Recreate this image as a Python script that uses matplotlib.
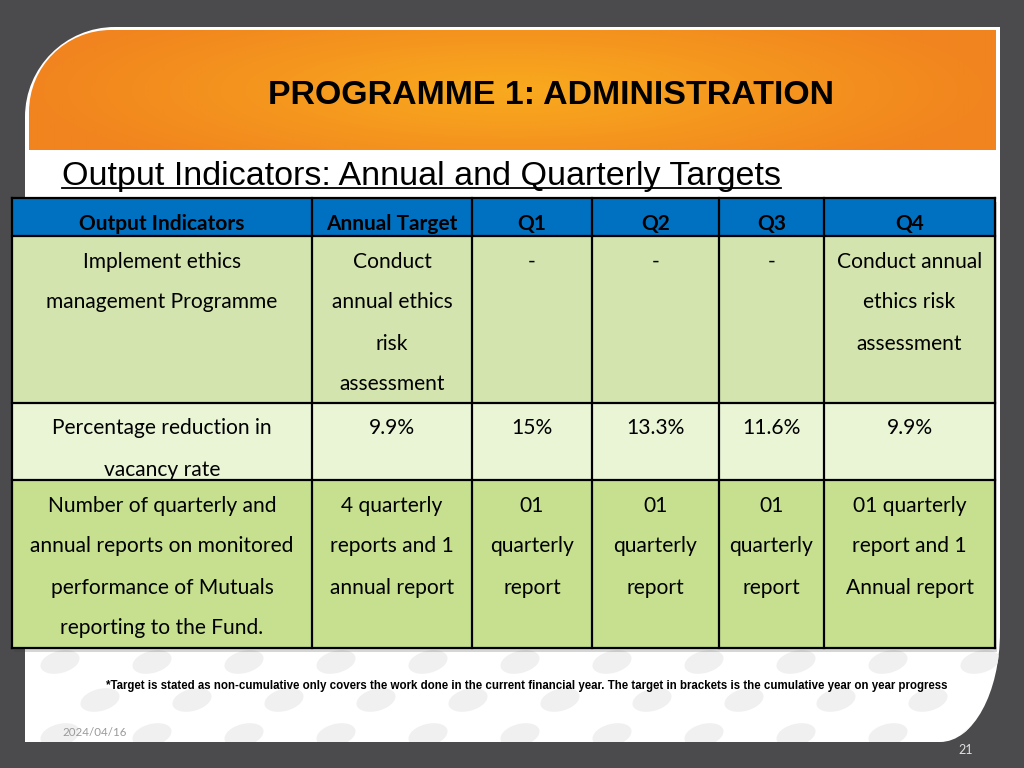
import matplotlib
matplotlib.use("Agg")
import matplotlib.pyplot as plt
import numpy as np
from matplotlib.path import Path
from matplotlib.patches import PathPatch, Rectangle, Ellipse

# ---- slide content ----
title = "PROGRAMME 1: ADMINISTRATION"
subtitle = "Output Indicators: Annual and Quarterly Targets"
headers = ["Output Indicators", "Annual Target", "Q1", "Q2", "Q3", "Q4"]
indicators = [
    ["Implement ethics", "management Programme"],
    ["Percentage reduction in", "vacancy rate"],
    ["Number of quarterly and", "annual reports on monitored",
     "performance of Mutuals", "reporting to the Fund."],
]
annual_targets = [
    ["Conduct", "annual ethics", "risk", "assessment"],
    ["9.9%"],
    ["4 quarterly", "reports and 1", "annual report"],
]
q1 = [["-"], ["15%"], ["01", "quarterly", "report"]]
q2 = [["-"], ["13.3%"], ["01", "quarterly", "report"]]
q3 = [["-"], ["11.6%"], ["01", "quarterly", "report"]]
q4 = [["Conduct annual", "ethics risk", "assessment"], ["9.9%"],
      ["01 quarterly", "report and 1", "Annual report"]]
footnote = ("*Target is stated as non-cumulative only covers the work done in the current "
            "financial year. The target in brackets is the cumulative year on year progress")
date_text = "2024/04/16"
page_no = "21"

# ---- layout (pixels) ----
col_edges = [12, 312, 472, 592, 719, 824, 995]
row_edges = [198, 236, 403, 480, 648]
row_colors = ["#d3e4ae", "#eaf5d6", "#c6e08f"]
line_gap = 41

fig = plt.figure(figsize=(10.24, 7.68), dpi=100)
fig.patch.set_facecolor("#4b4b4d")
ax = fig.add_axes([0, 0, 1, 1])
ax.set_xlim(0, 1024)
ax.set_ylim(768, 0)
ax.axis("off")


def rounded_shape(x0, y0, x1, y1, r_tl, br=None):
    k = 0.5523
    verts = [(x0, y1), (x0, y0 + r_tl),
             (x0, y0 + r_tl * (1 - k)), (x0 + r_tl * (1 - k), y0), (x0 + r_tl, y0),
             (x1, y0)]
    codes = [Path.MOVETO, Path.LINETO, Path.CURVE4, Path.CURVE4, Path.CURVE4, Path.LINETO]
    if br:
        bx, by = br
        verts += [(x1, y1 - by), (x1, y1 - by * (1 - k)), (x1 - bx * (1 - k), y1), (x1 - bx, y1)]
        codes += [Path.LINETO, Path.CURVE4, Path.CURVE4, Path.CURVE4]
    else:
        verts += [(x1, y1)]
        codes += [Path.LINETO]
    verts += [(x0, y1)]
    codes += [Path.CLOSEPOLY]
    return Path(verts, codes)


# white slide
slide = PathPatch(rounded_shape(25, 27, 1000, 742, 90, br=(60, 110)),
                  facecolor="white", edgecolor="none", zorder=1)
ax.add_patch(slide)

# faint decorative dots at the bottom
for i, yy in enumerate([662, 700, 735]):
    for j in range(11):
        xx = 60 + j * 92 + (i % 2) * 40
        ax.add_artist(Ellipse((xx, yy), 40, 22, angle=-15, facecolor="#f0f0f0",
                              edgecolor="none", zorder=1.5, clip_path=slide))

# orange band with radial gradient
band = PathPatch(rounded_shape(29, 30, 996, 150, 82), facecolor="none", edgecolor="none")
ax.add_patch(band)
gx, gy = np.meshgrid(np.linspace(-1, 1, 400), np.linspace(-1, 1, 60))
dist = np.clip(np.sqrt(gx ** 2 + (gy * 0.6) ** 2), 0, 1)
c_in = np.array([249, 170, 30]) / 255
c_out = np.array([241, 132, 30]) / 255
img = c_in[None, None, :] * (1 - dist[..., None]) + c_out[None, None, :] * dist[..., None]
im = ax.imshow(img, extent=(29, 996, 150, 30), aspect="auto", zorder=2, interpolation="bilinear")
im.set_clip_path(band)

ax.text(551, 92, title, ha="center", va="center_baseline", fontsize=24.4, fontweight="bold",
        family="Liberation Sans", color="black", zorder=3)
ax.text(62, 185, subtitle, ha="left", va="baseline", fontsize=24.5,
        family="Liberation Sans", color="black", zorder=3)
ax.plot([62, 781], [188, 188], color="black", lw=1.3, zorder=3)

# table
ax.add_patch(Rectangle((14, 202), 983, 450, facecolor="#333333", edgecolor="none",
                       alpha=0.2, zorder=2.5))
ax.add_patch(Rectangle((col_edges[0], row_edges[0]), col_edges[-1] - col_edges[0],
                       row_edges[1] - row_edges[0], facecolor="#0070c0", edgecolor="none", zorder=3))
for r in range(3):
    ax.add_patch(Rectangle((col_edges[0], row_edges[r + 1]), col_edges[-1] - col_edges[0],
                           row_edges[r + 2] - row_edges[r + 1], facecolor=row_colors[r],
                           edgecolor="none", zorder=3))
for x in col_edges:
    ax.plot([x, x], [row_edges[0], row_edges[-1]], color="black", lw=1.6, zorder=4)
for y in row_edges:
    ax.plot([col_edges[0], col_edges[-1]], [y, y], color="black", lw=1.6, zorder=4)

body_font = ["Lato", "DejaVu Sans"]
for c, h in enumerate(headers):
    xc = (col_edges[c] + col_edges[c + 1]) / 2
    ax.text(xc, 224, h, ha="center", va="center", fontsize=15, fontweight="bold",
            family=body_font, color="black", zorder=5)

columns = [indicators, annual_targets, q1, q2, q3, q4]
for c, col in enumerate(columns):
    xc = (col_edges[c] + col_edges[c + 1]) / 2
    for r, lines in enumerate(col):
        top = row_edges[r + 1]
        for i, line in enumerate(lines):
            ax.text(xc, top + 25.5 + i * line_gap, line, ha="center", va="center",
                    fontsize=15.1, family=body_font, color="black", zorder=5)

ax.text(527, 686, footnote, ha="center", va="center", fontsize=8.3, fontweight="bold",
        family=["Liberation Sans Narrow", "Liberation Sans"], color="black", zorder=5)
ax.text(62, 732, date_text, ha="left", va="center", fontsize=8.3, family=body_font,
        color="#9a9a9a", zorder=5)
ax.text(966, 750, page_no, ha="center", va="center", fontsize=9, family=body_font,
        color="#e0e0e0", zorder=5)

fig.savefig("out.png", dpi=100, facecolor=fig.get_facecolor())
